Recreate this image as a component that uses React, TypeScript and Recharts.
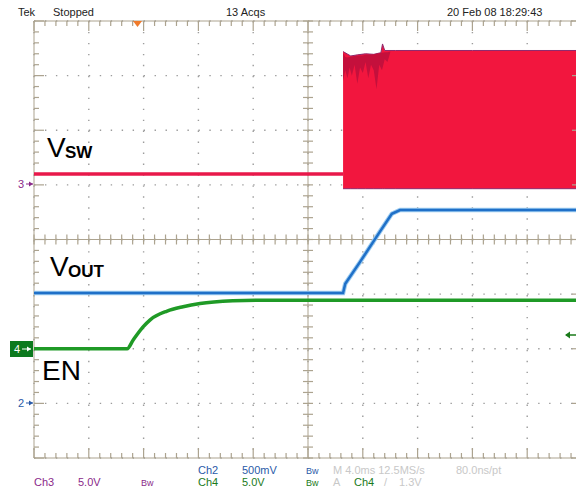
import { ComposedChart, Line, Area, XAxis, YAxis, CartesianGrid, ReferenceLine } from "recharts";

// time axis in divisions (0..10), amplitude in divisions (0..8)
const vswFlatT = [0, 5.64];
const vswFlatV = [5.2, 5.2];

const bandT = [5.64, 5.78, 5.9, 6.05, 6.2, 6.33, 6.36, 6.4, 6.6, 8, 10];
const bandHi = [7.44, 7.36, 7.38, 7.4, 7.39, 7.42, 7.58, 7.46, 7.46, 7.46, 7.46];
const bandLo = [4.93, 4.93, 4.93, 4.93, 4.93, 4.93, 4.93, 4.93, 4.93, 4.93, 4.93];

const darkT = [5.64, 5.68, 5.72, 5.76, 5.8, 5.85, 5.9, 5.95, 6.0, 6.05, 6.1, 6.15, 6.2, 6.25, 6.3, 6.35, 6.4, 6.45, 6.5];
const darkHi = [7.42, 7.34, 7.33, 7.34, 7.35, 7.36, 7.36, 7.37, 7.37, 7.38, 7.38, 7.38, 7.39, 7.4, 7.41, 7.42, 7.43, 7.43, 7.44];
const darkLo = [6.9, 7.1, 6.95, 7.15, 7.0, 7.2, 6.85, 7.15, 7.05, 7.25, 6.95, 7.2, 7.1, 6.75, 7.2, 7.1, 7.3, 7.25, 7.42];

const voutT = [0, 5.64, 5.68, 5.95, 6.31, 6.53, 6.68, 10];
const voutV = [3.02, 3.02, 3.19, 3.59, 4.14, 4.47, 4.54, 4.54];

const enT = [0, 1.7, 1.81, 1.99, 2.12, 2.43, 2.72, 3.03, 3.63, 4.07, 10];
const enV = [2.0, 2.0, 2.16, 2.4, 2.53, 2.69, 2.77, 2.83, 2.88, 2.89, 2.89];

const divTicksX = [0, 1, 2, 3, 4, 5, 6, 7, 8, 9, 10];
const divTicksY = [0, 1, 2, 3, 4, 5, 6, 7, 8];

const vswFlat = vswFlatT.map((t, i) => ({ t, v: vswFlatV[i] }));
const band = bandT.map((t, i) => ({ t, r: [bandLo[i], bandHi[i]] }));
const dark = darkT.map((t, i) => ({ t, r: [darkLo[i], darkHi[i]] }));
const vout = voutT.map((t, i) => ({ t, v: voutV[i] }));
const en = enT.map((t, i) => ({ t, v: enV[i] }));

const PX = 10 / 548; // one pixel in x divisions
const PY = 8 / 437; // one pixel in y divisions
const GRAT = "#aca38f";

type Seg = [{ x: number; y: number }, { x: number; y: number }];
const segs: Seg[] = [];
for (let k = 0; k <= 50; k++) {
  const x = k / 5;
  const len = k % 5 === 0 ? 10 : 5;
  segs.push([{ x, y: 8 }, { x, y: 8 - len * PY }]);
  segs.push([{ x, y: 0 }, { x, y: len * PY }]);
  segs.push([{ x, y: 4 - 5 * PY }, { x, y: 4 + 5 * PY }]);
}
for (let k = 0; k <= 40; k++) {
  const y = k / 5;
  const len = k % 5 === 0 ? 10 : 5;
  segs.push([{ x: 0, y }, { x: len * PX, y }]);
  segs.push([{ x: 10, y }, { x: 10 - len * PX, y }]);
  segs.push([{ x: 5 - 5 * PX, y }, { x: 5 + 5 * PX, y }]);
}

const font = "'Liberation Sans', Arial, sans-serif";

export default function App() {
  return (
    <div style={{ position: "fixed", left: 0, top: 0, width: 576, height: 493, overflow: "hidden", background: "#fff" }}>
      <ComposedChart width={600} height={493} margin={{ top: 21, left: 34, right: 18, bottom: 35 }}>
        <XAxis type="number" dataKey="t" domain={[0, 10]} ticks={divTicksX} hide allowDataOverflow />
        <YAxis type="number" domain={[0, 8]} ticks={divTicksY} hide allowDataOverflow />
        <CartesianGrid stroke="#9c9c9c" strokeWidth={1.4} strokeDasharray="1.4 9.56" />
        <ReferenceLine x={0} stroke={GRAT} />
        <ReferenceLine x={10} stroke={GRAT} />
        <ReferenceLine y={0} stroke={GRAT} />
        <ReferenceLine y={8} stroke={GRAT} />
        <ReferenceLine x={5} stroke={GRAT} />
        <ReferenceLine y={4} stroke={GRAT} />
        {segs.map((s, i) => (
          <ReferenceLine key={i} segment={s} stroke={GRAT} strokeWidth={1.2} />
        ))}
        <Area data={band} dataKey="r" type="linear" fill="#f2163e" fillOpacity={1} stroke="#8e2a6e" strokeWidth={1} isAnimationActive={false} />
        <Area data={dark} dataKey="r" type="linear" fill="#c4103c" fillOpacity={1} stroke="none" isAnimationActive={false} />
        <Line data={vswFlat} dataKey="v" type="linear" stroke="#e8184a" strokeWidth={3.5} dot={false} isAnimationActive={false} />
        <Line data={vout} dataKey="v" type="linear" stroke="#9ccbf0" strokeWidth={4.5} dot={false} isAnimationActive={false} />
        <Line data={vout} dataKey="v" type="linear" stroke="#1f70c8" strokeWidth={2.5} dot={false} isAnimationActive={false} />
        <Line data={en} dataKey="v" type="monotone" stroke="#1f9a26" strokeWidth={3.5} dot={false} isAnimationActive={false} />
      </ComposedChart>
      <svg width={576} height={493} style={{ position: "absolute", left: 0, top: 0, pointerEvents: "none" }}>
        <g fontFamily={font} fontSize={11}>
          <text x={18} y={16} fill="#222">Tek</text>
          <text x={53} y={16} fill="#222">Stopped</text>
          <text x={226} y={16} fill="#222">13 Acqs</text>
          <text x={447} y={16} fill="#222">20 Feb 08 18:29:43</text>
        </g>
        <polygon points="133,21 142,21 137.5,27" fill="#f07a2a" />
        <g fontFamily={font}>
          <text x={47} y={157} fontSize={28} fill="#000">V</text>
          <text x={65} y={158} fontSize={17} fontWeight="bold" fill="#000">SW</text>
          <text x={50} y={276} fontSize={28} fill="#000">V</text>
          <text x={68} y={277} fontSize={17} fontWeight="bold" fill="#000">OUT</text>
          <text x={42} y={380} fontSize={28} fill="#000">EN</text>
        </g>
        <g fontFamily={font} fontSize={11}>
          <text x={18} y={188} fill="#8a2a8a">3</text>
          <line x1={26} y1={184} x2={33} y2={184} stroke="#8a2a8a" />
          <polygon points="33,184 29,181.5 29,186.5" fill="#8a2a8a" />
          <text x={18} y={407} fill="#2a5aa8">2</text>
          <line x1={26} y1={403} x2={33} y2={403} stroke="#2a5aa8" />
          <polygon points="33,403 29,400.5 29,405.5" fill="#2a5aa8" />
          <rect x={10} y={341} width={23} height={16} fill="#0c7a1e" />
          <text x={14} y={353} fill="#fff">4</text>
          <line x1={22} y1={349} x2={31} y2={349} stroke="#fff" />
          <polygon points="31,349 27,346.5 27,351.5" fill="#fff" />
          <line x1={566} y1={335} x2={576} y2={335} stroke="#1a7a1a" strokeWidth={1.5} />
          <polygon points="565,335 570,331.5 570,338.5" fill="#1a7a1a" />
        </g>
        <g fontFamily={font} fontSize={11}>
          <text x={198} y={474} fill="#2a5aa8">Ch2</text>
          <text x={242} y={474} fill="#2a5aa8">500mV</text>
          <text x={306} y={474} fill="#2a5aa8" fontSize={9}>Bw</text>
          <text x={333} y={474} fill="#c8c8c8">M 4.0ms 12.5MS/s</text>
          <text x={456} y={474} fill="#c8c8c8">80.0ns/pt</text>
          <text x={34} y={486} fill="#8a2a8a">Ch3</text>
          <text x={78} y={486} fill="#8a2a8a">5.0V</text>
          <text x={141} y={486} fill="#8a2a8a" fontSize={9}>Bw</text>
          <text x={198} y={486} fill="#1a7a1a">Ch4</text>
          <text x={242} y={486} fill="#1a7a1a">5.0V</text>
          <text x={306} y={486} fill="#1a7a1a" fontSize={9}>Bw</text>
          <text x={333} y={486} fill="#c8c8c8">A</text>
          <text x={354} y={486} fill="#1a7a1a">Ch4</text>
          <text x={384} y={486} fill="#c8c8c8">/</text>
          <text x={399} y={486} fill="#c8c8c8">1.3V</text>
        </g>
      </svg>
    </div>
  );
}
